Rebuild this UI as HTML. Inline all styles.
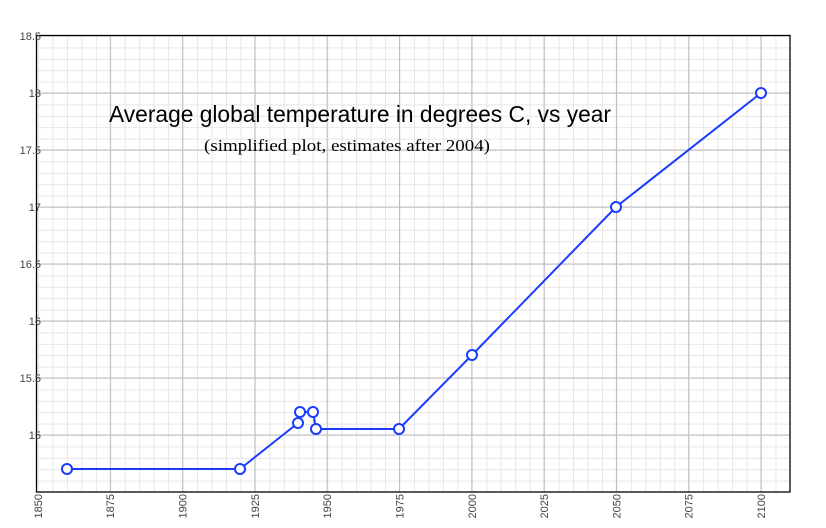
<!DOCTYPE html>
<html><head><meta charset="utf-8"><style>
html,body{margin:0;padding:0;background:#fff;width:826px;height:528px;overflow:hidden}
svg{display:block}
</style></head><body>
<svg width="826" height="528" viewBox="0 0 826 528" xmlns="http://www.w3.org/2000/svg">
<defs>
<pattern id="mx" x="38" y="0" width="14.46" height="528" patternUnits="userSpaceOnUse"><line x1="0.5" y1="0" x2="0.5" y2="528" stroke="#e6e6e6" stroke-width="1"/></pattern>
<pattern id="my" x="0" y="36" width="826" height="11.4" patternUnits="userSpaceOnUse"><line x1="0" y1="0.5" x2="826" y2="0.5" stroke="#e6e6e6" stroke-width="1"/></pattern>
</defs>
<rect x="36" y="35" width="754" height="457" fill="url(#mx)"/>
<rect x="36" y="35" width="754" height="457" fill="url(#my)"/>
<g stroke="#bdbdbd" stroke-width="1">
<line x1="110.3" y1="35" x2="110.3" y2="492"/><line x1="182.6" y1="35" x2="182.6" y2="492"/><line x1="254.9" y1="35" x2="254.9" y2="492"/><line x1="327.2" y1="35" x2="327.2" y2="492"/><line x1="399.5" y1="35" x2="399.5" y2="492"/><line x1="471.8" y1="35" x2="471.8" y2="492"/><line x1="544.1" y1="35" x2="544.1" y2="492"/><line x1="616.4" y1="35" x2="616.4" y2="492"/><line x1="688.7" y1="35" x2="688.7" y2="492"/><line x1="761" y1="35" x2="761" y2="492"/>
<line x1="36" y1="93" x2="790" y2="93"/><line x1="36" y1="150" x2="790" y2="150"/><line x1="36" y1="207" x2="790" y2="207"/><line x1="36" y1="264" x2="790" y2="264"/><line x1="36" y1="321" x2="790" y2="321"/><line x1="36" y1="378" x2="790" y2="378"/><line x1="36" y1="435" x2="790" y2="435"/>
</g>
<rect x="36.5" y="35.5" width="753.5" height="456.5" fill="none" stroke="#000" stroke-width="1.3"/>
<g font-family="Liberation Sans, sans-serif" font-size="11" fill="#444" text-anchor="end">
<text x="41" y="40">18.5</text><text x="41" y="97">18</text><text x="41" y="154">17.5</text><text x="41" y="211">17</text><text x="41" y="268">16.5</text><text x="41" y="325">16</text><text x="41" y="382">15.5</text><text x="41" y="439">15</text>
</g>
<g font-family="Liberation Sans, sans-serif" font-size="11" fill="#444" text-anchor="end">
<text transform="translate(42,494) rotate(-90)">1850</text>
<text transform="translate(114,494) rotate(-90)">1875</text>
<text transform="translate(186.6,494) rotate(-90)">1900</text>
<text transform="translate(259,494) rotate(-90)">1925</text>
<text transform="translate(331,494) rotate(-90)">1950</text>
<text transform="translate(403.5,494) rotate(-90)">1975</text>
<text transform="translate(476,494) rotate(-90)">2000</text>
<text transform="translate(548,494) rotate(-90)">2025</text>
<text transform="translate(620.4,494) rotate(-90)">2050</text>
<text transform="translate(692.7,494) rotate(-90)">2075</text>
<text transform="translate(765,494) rotate(-90)">2100</text>
</g>
<text x="360" y="122" text-anchor="middle" font-family="Liberation Sans, sans-serif" font-size="23" textLength="502" lengthAdjust="spacingAndGlyphs" fill="#000">Average global temperature in degrees C, vs year</text>
<text x="347" y="151" text-anchor="middle" font-family="Liberation Serif, serif" font-size="17" textLength="286" lengthAdjust="spacingAndGlyphs" fill="#000">(simplified plot, estimates after 2004)</text>
<polyline fill="none" stroke="#1a3cff" stroke-width="2" points="67,469 240,469 298,423 300,412 313,412 316,429 399,429 472,355 616,207 761,93"/>
<g fill="#fff" stroke="#1a3cff" stroke-width="2">
<circle cx="67" cy="469" r="5"/><circle cx="240" cy="469" r="5"/><circle cx="298" cy="423" r="5"/><circle cx="300" cy="412" r="5"/><circle cx="313" cy="412" r="5"/><circle cx="316" cy="429" r="5"/><circle cx="399" cy="429" r="5"/><circle cx="472" cy="355" r="5"/><circle cx="616" cy="207" r="5"/><circle cx="761" cy="93" r="5"/>
</g>
</svg>
</body></html>
